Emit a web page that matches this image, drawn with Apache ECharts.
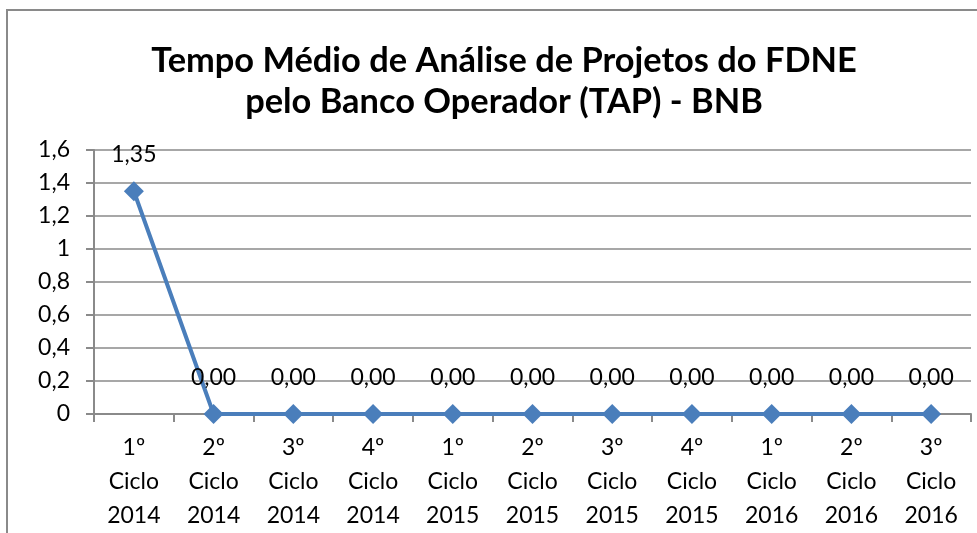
<!DOCTYPE html>
<html>
<head>
<meta charset="utf-8">
<script src="https://cdn.jsdelivr.net/npm/echarts@6/dist/echarts.min.js"></script>
<style>
    html, body { margin: 0; padding: 0; background: #fff; }
    #main { width: 977px; height: 533px; }
</style>
</head>
<body>
<div id="main"></div>
<script>
var categories = ['1º\nCiclo\n2014', '2º\nCiclo\n2014', '3º\nCiclo\n2014', '4º\nCiclo\n2014',
    '1º\nCiclo\n2015', '2º\nCiclo\n2015', '3º\nCiclo\n2015', '4º\nCiclo\n2015',
    '1º\nCiclo\n2016', '2º\nCiclo\n2016', '3º\nCiclo\n2016']
var tapValues = [1.35, 0, 0, 0, 0, 0, 0, 0, 0, 0, 0]

var fontName = 'Lato'
var myChart = echarts.init(document.getElementById('main'))
var option = {
    animation: false,
    textStyle: { fontFamily: fontName },
    title: {
        text: 'Tempo Médio de Análise de Projetos do FDNE\npelo Banco Operador (TAP) - BNB',
        left: 499,
        top: 35,
        textAlign: 'center',
        textStyle: {
            fontFamily: fontName,
            fontSize: 34.4,
            fontWeight: 'bold',
            color: '#000',
            lineHeight: 41
        }
    },
    graphic: [{
        type: 'rect',
        shape: { x: 7, y: 10, width: 1000, height: 600 },
        style: { fill: 'none', stroke: '#8a8a8a', lineWidth: 2 },
        z: -1
    }],
    grid: { left: 94, right: 6, top: 150, bottom: 118 },
    xAxis: {
        type: 'category',
        data: categories,
        boundaryGap: true,
        axisLine: { lineStyle: { color: '#8a8a8a', width: 2 } },
        axisTick: { show: true, length: 8, lineStyle: { color: '#8a8a8a', width: 2 } },
        axisLabel: {
            color: '#000',
            fontSize: 23,
            lineHeight: 34,
            margin: 17,
            interval: 0
        }
    },
    yAxis: {
        type: 'value',
        min: 0,
        max: 1.6,
        interval: 0.2,
        axisLine: { show: true, lineStyle: { color: '#8a8a8a', width: 2 } },
        axisTick: { show: true, length: 8, lineStyle: { color: '#8a8a8a', width: 2 } },
        splitLine: { lineStyle: { color: '#8a8a8a', width: 1.5 } },
        axisLabel: {
            color: '#000',
            fontSize: 23,
            margin: 24,
            formatter: function (v) {
                return String(Math.round(v * 10) / 10).replace('.', ',')
            }
        }
    },
    series: [{
        type: 'line',
        data: tapValues,
        symbol: 'diamond',
        symbolSize: 20,
        itemStyle: { color: '#4a7ebb' },
        lineStyle: { color: '#4a7ebb', width: 4 },
        label: {
            show: true,
            position: 'top',
            distance: 15,
            color: '#000',
            fontSize: 23,
            formatter: function (p) {
                return p.value.toFixed(2).replace('.', ',')
            }
        }
    }]
}
myChart.setOption(option)
</script>
</body>
</html>
